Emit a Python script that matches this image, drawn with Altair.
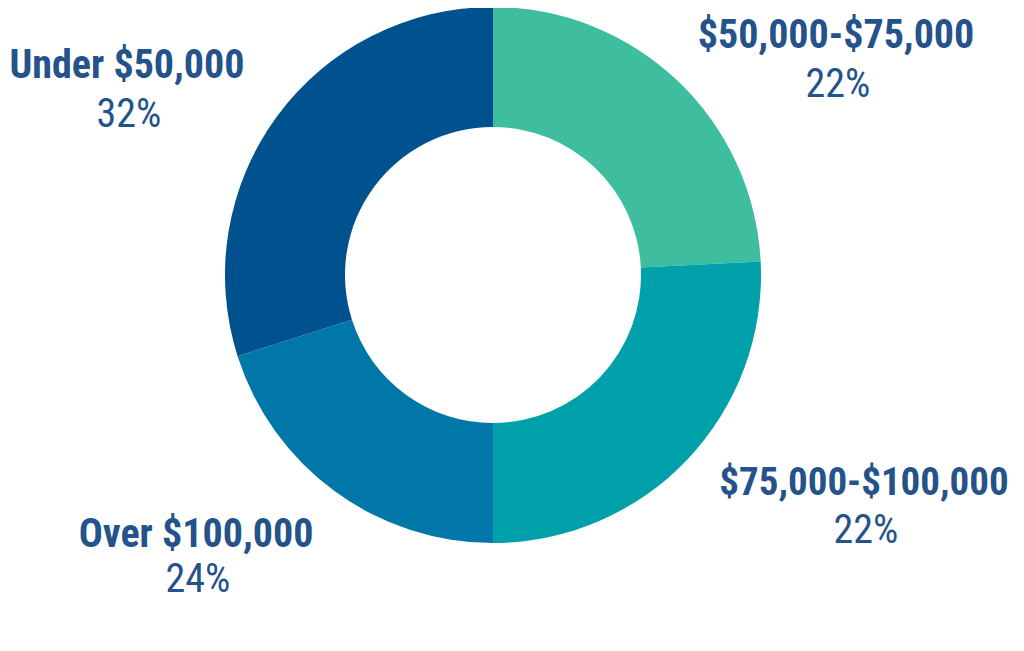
import altair as alt
import pandas as pd

# Data
categories = ["$50,000-$75,000", "$75,000-$100,000", "Over $100,000", "Under $50,000"]
slice_share = [24.2, 25.8, 20.1, 29.9]          # measured arc sizes (%)
label_pcts = ["22%", "22%", "24%", "32%"]        # printed labels
colors = ["#3ebd9f", "#00a0ab", "#0077a8", "#00528f"]

df = pd.DataFrame({
    "cat": categories,
    "share": slice_share,
    "order": list(range(len(categories))),
})

W, H = 1008, 635
CX, CY = 485, 267
TEXT_COLOR = "#24528a"
FONT = "Roboto Condensed, Liberation Sans Narrow, DejaVu Sans Condensed, sans-serif"

arc = alt.Chart(df).mark_arc(outerRadius=268, innerRadius=148, stroke=None).encode(
    theta=alt.Theta("share:Q", stack=True),
    order=alt.Order("order:Q"),
    color=alt.Color("cat:N", scale=alt.Scale(domain=categories, range=colors), legend=None),
    x=alt.value(CX),
    y=alt.value(CY),
)

# label layout (plot px): (center x, title baseline, pct baseline, title size)
label_layout = {
    "$50,000-$75,000": (828, 40, 89, 40),
    "$75,000-$100,000": (856, 487, 535, 39),
    "Over $100,000": (188, 539, 584, 40),
    "Under $50,000": (119, 70, 119, 40),
}

layers = [arc]
for cat, pct in zip(categories, label_pcts):
    lx, ty, py, fs = label_layout[cat]
    layers.append(
        alt.Chart(pd.DataFrame({"t": [cat]})).mark_text(
            font=FONT, fontSize=fs, fontWeight="bold", color=TEXT_COLOR,
            align="center", baseline="alphabetic",
        ).encode(text="t:N", x=alt.value(lx), y=alt.value(ty))
    )
    layers.append(
        alt.Chart(pd.DataFrame({"t": [pct]})).mark_text(
            font=FONT, fontSize=40, fontWeight="normal", color=TEXT_COLOR,
            align="center", baseline="alphabetic",
        ).encode(text="t:N", x=alt.value(lx + 2), y=alt.value(py))
    )

chart = alt.layer(*layers).properties(
    width=W, height=H, autosize=alt.AutoSizeParams(type="none"), padding=0,
).configure_view(stroke=None)

chart.save("out.html", embed_options={"renderer": "svg", "actions": False})
